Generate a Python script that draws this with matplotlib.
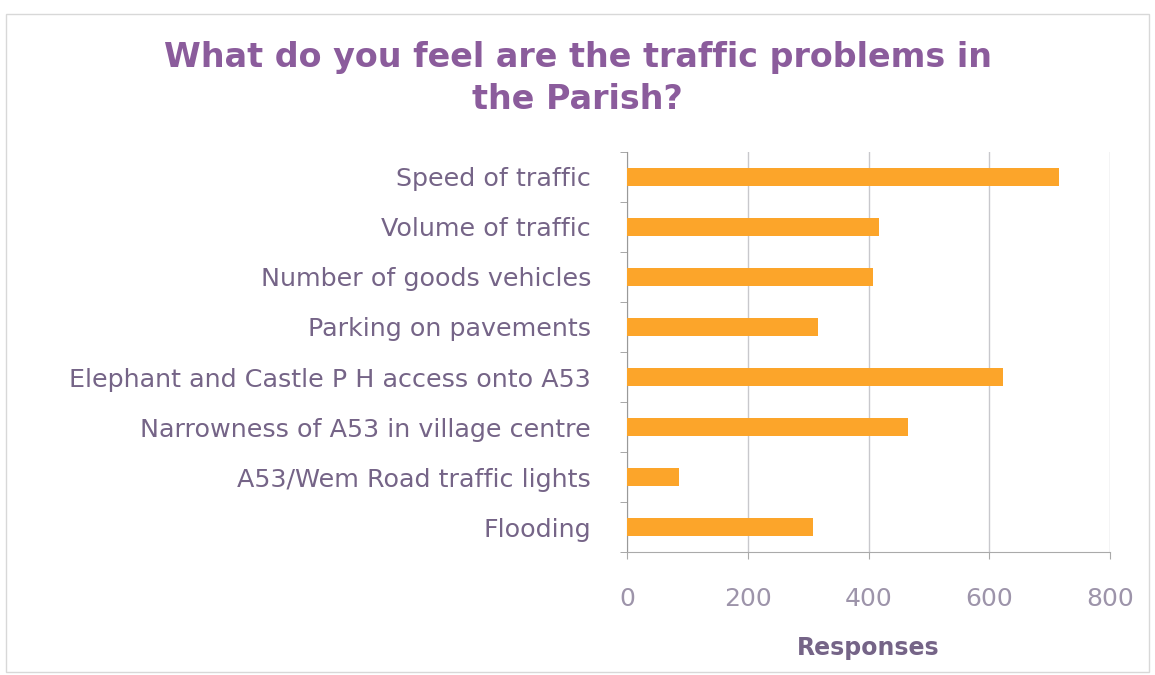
import matplotlib
matplotlib.use('Agg')
import matplotlib.pyplot as plt
import numpy as np
from matplotlib.patches import Rectangle

# survey answers, top to bottom as shown
problems = ["Speed of traffic", "Volume of traffic", "Number of goods vehicles",
            "Parking on pavements", "Elephant and Castle P H access onto A53",
            "Narrowness of A53 in village centre", "A53/Wem Road traffic lights",
            "Flooding"]
responses = [715, 417, 408, 317, 622, 466, 86, 308]
xticks = [0, 200, 400, 600, 800]

purple = '#8b5c9c'
label_col = '#756487'
tick_col = '#9d94aa'
bar_col = '#fca52a'
grid_col = '#c8c8cc'

plt.rcParams['font.family'] = ['DejaVu Sans']

fig = plt.figure(figsize=(11.55, 6.75), dpi=100)
fig.patch.set_facecolor('white')
fig.patches.append(Rectangle((0.005, 0.005), 0.99, 0.975, transform=fig.transFigure,
                             fill=False, edgecolor='#d8d8d8', lw=1))

ax = fig.add_axes([0.543, 0.182, 0.418, 0.593])
y = np.arange(len(problems))
ax.barh(y, responses, height=0.37, color=bar_col, zorder=3)
ax.set_ylim(len(problems) - 0.5, -0.5)
ax.set_xlim(0, 800)

ax.set_yticks(y)
ax.set_yticklabels(problems, fontsize=18.3, color=label_col)
ax.set_yticks(np.arange(-0.5, len(problems)), minor=True)
ax.tick_params(axis='y', which='major', length=0, pad=26)
ax.tick_params(axis='y', which='minor', length=5, color='#999999', direction='out')

ax.set_xticks(xticks)
ax.set_xticklabels([str(t) for t in xticks], fontsize=18, color=tick_col)
ax.tick_params(axis='x', length=5, color='#aaaaaa', pad=20)
ax.xaxis.grid(True, color=grid_col, lw=1, zorder=0)

for s in ['top', 'right']:
    ax.spines[s].set_visible(False)
ax.spines['left'].set_color('#999999')
ax.spines['bottom'].set_color('#aaaaaa')

ax.set_xlabel('Responses', fontsize=17, fontweight='bold', color=label_col, labelpad=18)

fig.text(0.5, 0.915, 'What do you feel are the traffic problems in', ha='center',
         va='center', fontsize=24, fontweight='bold', color=purple)
fig.text(0.5, 0.852, 'the Parish?', ha='center', va='center',
         fontsize=24, fontweight='bold', color=purple)

fig.savefig('out.png', dpi=100)
